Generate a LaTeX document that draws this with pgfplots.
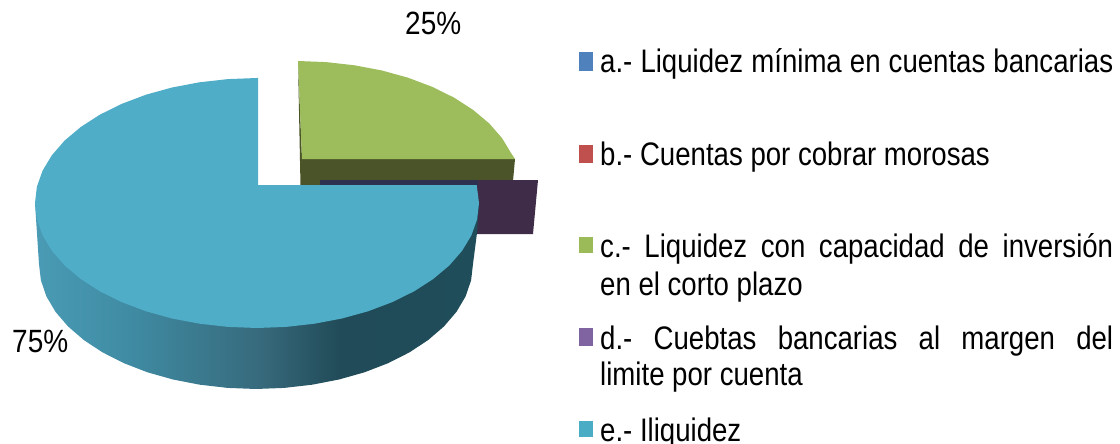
\documentclass[border=0pt]{standalone}
\usepackage{fontspec}
\setmainfont{Liberation Sans}
\usepackage{pgfplots}
\pgfplotsset{compat=1.18}
\definecolor{blueTop}{HTML}{4FADC7}
\definecolor{greenTop}{HTML}{9DBC5C}
\definecolor{greenWall}{HTML}{4B5428}
\definecolor{purpleSide}{HTML}{3F2C48}
\definecolor{purpleStrip}{HTML}{2E3050}
\definecolor{wA}{HTML}{4A9BB5}
\definecolor{wB}{HTML}{3F8BA3}
\definecolor{wC}{HTML}{376A7C}
\definecolor{wD}{HTML}{214B58}
\definecolor{wE}{HTML}{1F4D5A}
\definecolor{legA}{HTML}{4F81BD}
\definecolor{legB}{HTML}{C0504D}
\definecolor{legC}{HTML}{9BBB59}
\definecolor{legD}{HTML}{8064A2}
\definecolor{legE}{HTML}{4BACC6}
\pgfdeclarehorizontalshading{wallshade}{100bp}{color(0bp)=(wA); color(25bp)=(wA); color(35.7bp)=(wB); color(50.3bp)=(wC); color(59.3bp)=(wD); color(75bp)=(wE); color(100bp)=(wE)}
\newcommand{\legtxt}[1]{\scalebox{1}[1.18]{\fontsize{27.6}{27.6}\selectfont #1}}
\newcommand{\pc}[1]{\scalebox{1}[1.15]{\fontsize{28}{28}\selectfont #1}}
\begin{document}
\begin{tikzpicture}
\begin{axis}[
  width=1120pt, height=444pt, scale only axis,
  xmin=0, xmax=1120, ymin=0, ymax=444, y dir=reverse,
  hide axis, clip=true,
  every axis plot/.append style={draw=none, mark=none}
]
% green slice side and front
\addplot[fill=greenWall] coordinates {(298,61)(302,159)(515,159)(513,181)(320,181)(320,186)(300.5,186)};
% green top
\addplot[fill=greenTop] coordinates {(298,61)(326,62.1)(354.5,65.3)(382,70.5)(408,77.7)(432.1,86.8)(454,97.6)(473.1,109.9)(489.3,123.5)(502.1,138.2)(511.4,153.6)(515,159)(302,159)};
% purple slice side
\addplot[fill=purpleSide] coordinates {(320,180)(538,180)(533,234)(440,234)(440,180)};
\addplot[fill=purpleStrip] coordinates {(320,180)(478,180)(478,186)(320,186)};
% blue wall
\addplot[shading=wallshade] coordinates {(35,203)(473,203)(479,203)(477,233)(473,264)(471.1,280.3)(465.6,296.4)(456.5,311.8)(443.9,326.5)(428.1,340.1)(409.4,352.4)(388.1,363.2)(364.5,372.3)(339,379.5)(312.2,384.7)(284.3,387.9)(256,389)(227.7,387.9)(199.8,384.7)(173,379.5)(147.5,372.3)(123.9,363.2)(102.6,352.4)(83.9,340.1)(68.1,326.5)(55.5,311.8)(46.4,296.4)(40.9,280.3)(39,264)};
% blue top
\addplot[fill=blueTop] coordinates {(258,185)(476.7,185)(479,203)(477.1,219.3)(471.4,235.4)(462.1,250.8)(449.3,265.5)(433.1,279.1)(414,291.4)(392.1,302.2)(368,311.3)(342,318.5)(314.5,323.7)(286,326.9)(257,328)(228,326.9)(199.5,323.7)(172,318.5)(146,311.3)(121.9,302.2)(100,291.4)(80.9,279.1)(64.7,265.5)(51.9,250.8)(42.6,235.4)(36.9,219.3)(35,203)(36.9,186.7)(42.6,170.6)(51.9,155.2)(64.7,140.5)(80.9,126.9)(100,114.6)(121.9,103.8)(146,94.7)(172,87.5)(199.5,82.3)(228,79.1)(257,78)(258,78)};
% legend keys
\addplot[fill=legA] coordinates {(579,52)(593,52)(593,71)(579,71)};
\addplot[fill=legB] coordinates {(579,145)(593,145)(593,163)(579,163)};
\addplot[fill=legC] coordinates {(579,237)(593,237)(593,253)(579,253)};
\addplot[fill=legD] coordinates {(579,328)(593,328)(593,346)(579,346)};
\addplot[fill=legE] coordinates {(579,421)(593,421)(593,437)(579,437)};
\node[anchor=base west,inner sep=0] at (axis cs:600,73) {\legtxt{\makebox[513pt][s]{a.- Liquidez mínima en cuentas bancarias}}};
\node[anchor=base west,inner sep=0] at (axis cs:600,165) {\legtxt{b.- Cuentas por cobrar morosas}};
\node[anchor=base west,inner sep=0] at (axis cs:600,257) {\legtxt{\makebox[513pt][s]{c.- Liquidez con capacidad de inversión}}};
\node[anchor=base west,inner sep=0] at (axis cs:600,295) {\legtxt{en el corto plazo}};
\node[anchor=base west,inner sep=0] at (axis cs:600,349) {\legtxt{\makebox[513pt][s]{d.- Cuebtas bancarias al margen del}}};
\node[anchor=base west,inner sep=0] at (axis cs:600,385) {\legtxt{limite por cuenta}};
\node[anchor=base west,inner sep=0] at (axis cs:600,441) {\legtxt{e.- Iliquidez}};
\node[anchor=base west,inner sep=0] at (axis cs:405,35) {\pc{25\%}};
\node[anchor=base west,inner sep=0] at (axis cs:12,352) {\pc{75\%}};
\end{axis}
\pgfresetboundingbox
\path[use as bounding box] (0,0) rectangle (1120pt,444pt);
\end{tikzpicture}
\end{document}
